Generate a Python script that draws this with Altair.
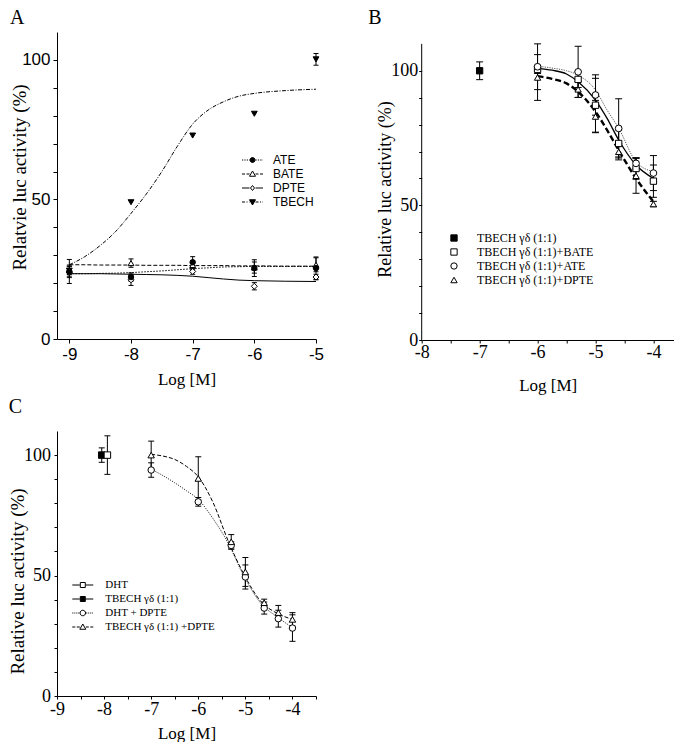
import altair as alt
import pandas as pd

SANS = "Liberation Sans"
SERIF = "Liberation Serif"

# ======================= Panel A =======================
A_x = [-9, -8, -7, -6, -5]
A_ATE = [24.2, 22.2, 27.5, 25.4, 25.4]
A_ATE_err = [4.3, 1.5, 2.0, 3.0, 4.0]
A_BATE = [24.6, 27.2, 26.5, 25.6, 26.6]
A_BATE_err = [1.5, 1.5, 1.5, 2.0, 2.5]
A_DPTE = [24.0, 21.2, 24.2, 18.9, 22.2]
A_DPTE_err = [2.0, 2.0, 1.0, 1.3, 1.0]
A_TBECH = [24.5, 49.0, 72.9, 80.7, 100.2]
A_TBECH_err = [2.0, 0.0, 0.0, 0.0, 2.1]
A_fit_x = [-9, -8.75, -8.5, -8.25, -8, -7.75, -7.5, -7.25, -7, -6.75, -6.5, -6.25, -6, -5.5, -5]
A_fit_ATE = [23.4, 23.4, 23.5, 23.6, 23.8, 24.1, 24.4, 24.8, 25.2, 25.5, 25.8, 25.9, 26.0, 26.0, 26.0]
A_fit_BATE = [26.6, 26.6, 26.5, 26.5, 26.5, 26.4, 26.4, 26.4, 26.3, 26.3, 26.3, 26.2, 26.2, 26.1, 26.1]
A_fit_DPTE = [23.4, 23.4, 23.4, 23.3, 23.2, 23.1, 23.0, 22.8, 22.5, 22.0, 21.5, 21.1, 20.9, 20.7, 20.6]
A_fit_TBECH = [26.6, 29.5, 33.5, 38.5, 45.0, 52.0, 60.0, 69.0, 77.0, 82.0, 85.0, 87.0, 88.0, 89.0, 89.5]
A_names = ["ATE", "BATE", "DPTE", "TBECH"]

# ======================= Panel B =======================
B_ref_x = [-7]
B_ref = [100.0]
B_ref_err = [3.3]
B_x = [-6, -5.3, -5, -4.6, -4.3, -4]
B_BATE = [100.5, 96.8, 87.2, 73.0, 63.7, 59.0]
B_BATE_err = [1.5, 3.0, 10.0, 5.0, 4.0, 6.0]
B_ATE = [101.5, 99.6, 91.0, 78.6, 65.6, 62.0]
B_ATE_err = [8.5, 9.5, 7.5, 11.0, 2.0, 6.5]
B_DPTE = [97.5, 93.1, 83.0, 69.9, 61.0, 50.5]
B_DPTE_err = [8.5, 3.0, 6.0, 3.0, 6.5, 1.0]
B_fit_x = [-6, -5.75, -5.5, -5.3, -5.0, -4.8, -4.6, -4.3, -4.0]
B_fit_ATE = [101.7, 101.0, 100.0, 98.4, 92.8, 85.4, 78.7, 66.2, 62.5]
B_fit_BATE = [100.9, 100.2, 98.8, 95.9, 89.1, 82.3, 74.3, 65.0, 60.0]
B_fit_DPTE = [98.0, 97.0, 95.3, 92.2, 84.8, 78.0, 70.5, 60.0, 51.4]
B_names = ["TBECH γδ (1:1)", "TBECH γδ (1:1)+BATE", "TBECH γδ (1:1)+ATE", "TBECH γδ (1:1)+DPTE"]
B_axis_span = [0, 110]

# ======================= Panel C =======================
C_DHT_x = [-7.93]
C_DHT = [100.0]
C_DHT_err = [8.0]
C_TB_x = [-8.05]
C_TB = [100.0]
C_TB_err = [3.0]
C_x = [-7, -6, -5.3, -5, -4.6, -4.3, -4]
C_DHT_DPTE = [93.8, 80.6, 62.5, 49.4, 36.5, 32.1, 28.2]
C_DHT_DPTE_err = [3.0, 1.8, 1.5, 5.0, 2.5, 3.5, 5.5]
C_TB_DPTE = [100.0, 90.3, 64.0, 51.5, 38.7, 34.6, 31.8]
C_TB_DPTE_err = [5.8, 9.0, 3.0, 6.0, 1.5, 3.0, 2.8]
C_fit_x = [-7, -6.75, -6.5, -6.25, -6, -5.7, -5.35, -5.05, -4.65, -4.35, -4]
C_fit_DHT_DPTE = [94.1, 91.5, 88.5, 85.2, 81.6, 74.0, 62.9, 50.5, 38.0, 33.2, 28.4]
C_fit_TB_DPTE = [100.3, 99.6, 98.2, 95.3, 91.0, 80.9, 63.7, 51.2, 38.8, 34.6, 31.8]
C_names = ["DHT", "TBECH γδ (1:1)", "DHT + DPTE", "TBECH γδ (1:1) +DPTE"]


# ---------------- helpers ----------------
def make_xy(xdom, ydom, xaxis, yaxis):
    def X(f="x"):
        return alt.X(f"{f}:Q", scale=alt.Scale(domain=xdom, nice=False, zero=False), axis=xaxis)

    def Y(f="y"):
        return alt.Y(f"{f}:Q", scale=alt.Scale(domain=ydom, nice=False, zero=False), axis=yaxis)

    return X, Y


def axis_x(values, font, size, label_pad, title_y, tick=4):
    return alt.Axis(
        values=values,
        labelExpr="datum.value == floor(datum.value) ? '' + datum.value : ''",
        title="Log [M]", titleFont=SERIF, titleFontSize=17, titleFontWeight="normal",
        titleColor="black", titleY=title_y,
        labelFont=font, labelFontSize=size, labelColor="black", labelPadding=label_pad,
        labelFlush=False, labelOverlap=False,
        tickSize=tick, tickColor="black", tickWidth=1,
        domainColor="black", domainWidth=1, grid=False,
    )


def axis_y(title, font, size, label_pad, title_x, title_y, title_size, tick=4, domain=True):
    return alt.Axis(
        values=list(range(0, 101, 10)),
        labelExpr="datum.value % 50 == 0 ? '' + datum.value : ''",
        title=title, titleFont=SERIF, titleFontSize=title_size, titleFontWeight="normal",
        titleColor="black", titleX=title_x, titleY=title_y,
        labelFont=font, labelFontSize=size, labelColor="black", labelPadding=label_pad,
        labelFlush=False, labelOverlap=False,
        tickSize=tick, tickColor="black", tickWidth=1,
        domain=domain, domainColor="black", domainWidth=1, grid=False,
    )


def curve(xs, ys, X, Y, width=1.0, dash=None, color="black"):
    kw = dict(color=color, strokeWidth=width, interpolate="monotone")
    if dash:
        kw["strokeDash"] = dash
    return alt.Chart(pd.DataFrame({"x": xs, "y": ys})).mark_line(**kw).encode(x=X(), y=Y())


def errbars(xs, ys, errs, X, Y, cap):
    d = pd.DataFrame({"x": xs, "y": ys, "e": errs})
    d = d[d["e"] > 0].copy()
    d["lo"] = d["y"] - d["e"]
    d["hi"] = d["y"] + d["e"]
    base = alt.Chart(d)
    rule = base.mark_rule(color="black", strokeWidth=1).encode(x=X(), y=Y("lo"), y2="hi:Q")
    t1 = base.mark_tick(orient="horizontal", size=cap, thickness=1, color="black", opacity=1).encode(x=X(), y=Y("lo"))
    t2 = base.mark_tick(orient="horizontal", size=cap, thickness=1, color="black", opacity=1).encode(x=X(), y=Y("hi"))
    return [rule, t1, t2]


def points(xs, ys, X, Y, shape, filled, size):
    return alt.Chart(pd.DataFrame({"x": xs, "y": ys})).mark_point(
        shape=shape, filled=True, fill="black" if filled else "white",
        stroke="black", strokeWidth=1, size=size, opacity=1,
    ).encode(x=X(), y=Y())


def legend_layer(field, names, shapes, fills, legend):
    d = pd.DataFrame({field: names})
    return alt.Chart(d).transform_filter("false").mark_point(
        filled=False, strokeWidth=1, opacity=1
    ).encode(
        shape=alt.Shape(f"{field}:N", scale=alt.Scale(domain=names, range=shapes), legend=legend),
        fill=alt.Fill(f"{field}:N", scale=alt.Scale(domain=names, range=fills), legend=legend),
        stroke=alt.Stroke(f"{field}:N", scale=alt.Scale(domain=names, range=["black"] * len(names)),
                          legend=legend),
    )


def legend(x, y, size, font, fsize, offset):
    return alt.Legend(orient="none", legendX=x, legendY=y, title=None, symbolSize=size,
                      symbolStrokeWidth=1, labelFont=font, symbolOpacity=1,
                      labelFontSize=fsize, labelColor="black", labelOffset=offset, padding=0,
                      rowPadding=2, labelLimit=0)


# legend glyphs: line pieces + marker, in symbol units (5 px per unit at size 100)
U = 5.0


def seg(a, b, pattern):
    if pattern is None:
        return f"M{a:.2f},0H{b:.2f}"
    out, pos, i = [], a, 0
    while pos < b - 1e-6:
        end = min(pos + pattern[i % len(pattern)] / U, b)
        if i % 2 == 0:
            out.append(f"M{pos:.2f},0H{end:.2f}")
        pos, i = end, i + 1
    return "".join(out)


def glyph(marker, pattern, half=2.1, gap=0.6):
    return seg(-half, -gap, pattern) + seg(gap, half, pattern) + marker


def circ(r):
    return f"M{-r},0A{r},{r} 0 1,0 {r},0A{r},{r} 0 1,0 {-r},0Z"


def tri_up(r):
    return f"M0,{-r}L{r},{r * 0.75}L{-r},{r * 0.75}Z"


def tri_dn(r):
    return f"M0,{r}L{r},{-r * 0.75}L{-r},{-r * 0.75}Z"


def diam(r):
    return f"M0,{-r}L{r * 0.8},0L0,{r}L{-r * 0.8},0Z"


def sq(r):
    return f"M{-r},{-r}H{r}V{r}H{-r}Z"


# ======================= build A =======================
XA, YA = make_xy(
    [-9.2, -5], [0, 110],
    axis_x([-9, -8, -7, -6, -5], SANS, 17, 3.5, 32),
    axis_y("Relatvie luc activity (%)", SANS, 17, 3, -28, 145, 19),
)
layersA = [
    curve(A_fit_x, A_fit_BATE, XA, YA, 1, [4, 2]),
    curve(A_fit_x, A_fit_ATE, XA, YA, 1, [1.5, 1.5]),
    curve(A_fit_x, A_fit_DPTE, XA, YA, 1),
    curve(A_fit_x, A_fit_TBECH, XA, YA, 1, [4, 1.5, 1, 1.5]),
]
for ys, es in [(A_ATE, A_ATE_err), (A_BATE, A_BATE_err), (A_DPTE, A_DPTE_err), (A_TBECH, A_TBECH_err)]:
    layersA += errbars(A_x, ys, es, XA, YA, 5)
layersA += [
    points(A_x, A_BATE, XA, YA, "triangle-up", False, 34),
    points(A_x, A_DPTE, XA, YA, "diamond", False, 36),
    points(A_x, A_ATE, XA, YA, "circle", True, 30),
    points(A_x, A_TBECH, XA, YA, "triangle-down", True, 34),
    legend_layer(
        "lgA", A_names,
        [glyph(circ(0.5), [1.2, 1.2]), glyph(tri_up(0.6), [3, 1.5]), glyph(diam(0.5), None),
         glyph(tri_dn(0.6), [3, 1.5, 1, 1.5])],
        ["black", "white", "white", "black"],
        legend(189.5, 122, 100, SANS, 12, 14.5)),
]
A = alt.layer(*layersA).properties(
    width=259, height=307,
    title=alt.TitleParams("A", anchor="start", font=SERIF, fontSize=20, fontWeight="normal",
                          color="black", offset=4),
)

# ======================= build B =======================
XB, YB = make_xy(
    [-8, -3.65], [0, 114.4],
    axis_x([-8 + 0.5 * i for i in range(9)], SERIF, 18, 0, 37, 3),
    axis_y("Relative luc activity (%)", SERIF, 18, 1, -27.5, 157, 18, 3, False),
)
axB = alt.Chart(pd.DataFrame({"x": [-8], "y0": [B_axis_span[0]], "y1": [B_axis_span[1]]})).mark_rule(
    color="black", strokeWidth=1).encode(x=XB(), y=YB("y0"), y2="y1:Q")
layersB = [
    axB,
    curve(B_fit_x, B_fit_ATE, XB, YB, 0.9, [1.2, 1.2], "#444444"),
    curve(B_fit_x, B_fit_BATE, XB, YB, 1.3),
    curve(B_fit_x, B_fit_DPTE, XB, YB, 2.4, [6, 3]),
]
for xs, ys, es in [(B_ref_x, B_ref, B_ref_err), (B_x, B_ATE, B_ATE_err), (B_x, B_BATE, B_BATE_err),
                   (B_x, B_DPTE, B_DPTE_err)]:
    layersB += errbars(xs, ys, es, XB, YB, 7)
layersB += [
    points(B_ref_x, B_ref, XB, YB, "square", True, 40),
    points(B_x, B_DPTE, XB, YB, "triangle-up", False, 40),
    points(B_x, B_BATE, XB, YB, "square", False, 40),
    points(B_x, B_ATE, XB, YB, "circle", False, 45),
    legend_layer("lgB", B_names, ["square", "square", "circle", "triangle-up"],
                 ["black", "white", "white", "white"],
                 legend(26.3, 200, 40, SERIF, 12, 17)),
]
B = alt.layer(*layersB).properties(
    width=252, height=308,
    title=alt.TitleParams("B", anchor="start", font=SERIF, fontSize=20, fontWeight="normal",
                          color="black", offset=4, dx=-8),
)

# ======================= build C =======================
XC, YC = make_xy(
    [-9, -3.5], [0, 110],
    axis_x([-9 + 0.5 * i for i in range(12)], SERIF, 18, 1, 29.5, 3),
    axis_y("Relative luc activity (%)", SERIF, 18, 3.5, -29.3, 150, 19, 3),
)
layersC = [
    curve(C_fit_x, C_fit_DHT_DPTE, XC, YC, 1, [1.2, 1.2], "#333333"),
    curve(C_fit_x, C_fit_TB_DPTE, XC, YC, 1, [4, 2]),
]
for xs, ys, es in [(C_DHT_x, C_DHT, C_DHT_err), (C_TB_x, C_TB, C_TB_err),
                   (C_x, C_DHT_DPTE, C_DHT_DPTE_err), (C_x, C_TB_DPTE, C_TB_DPTE_err)]:
    layersC += errbars(xs, ys, es, XC, YC, 6)
layersC += [
    points(C_TB_x, C_TB, XC, YC, "square", True, 42),
    points(C_DHT_x, C_DHT, XC, YC, "square", False, 42),
    points(C_x, C_DHT_DPTE, XC, YC, "circle", False, 42),
    points(C_x, C_TB_DPTE, XC, YC, "triangle-up", False, 42),
    legend_layer(
        "lgC", C_names,
        [glyph(sq(0.5), None), glyph(sq(0.5), None), glyph(circ(0.55), [1, 1]),
         glyph(tri_up(0.6), [3, 1.5])],
        ["white", "black", "white", "white"],
        legend(20.3, 148.5, 100, SERIF, 11, 17)),
]
C = alt.layer(*layersC).properties(
    width=259, height=265,
    title=alt.TitleParams("C", anchor="start", font=SERIF, fontSize=20, fontWeight="normal",
                          color="black", offset=14),
)

chart = (
    alt.concat(A, B, C, columns=2, spacing={"row": 4, "column": 43.7})
    .resolve_scale(shape="independent", fill="independent", stroke="independent")
    .properties(padding=0)
    .configure_view(stroke=None)
)

chart.save("out.html", embed_options={"renderer": "svg", "actions": False})
